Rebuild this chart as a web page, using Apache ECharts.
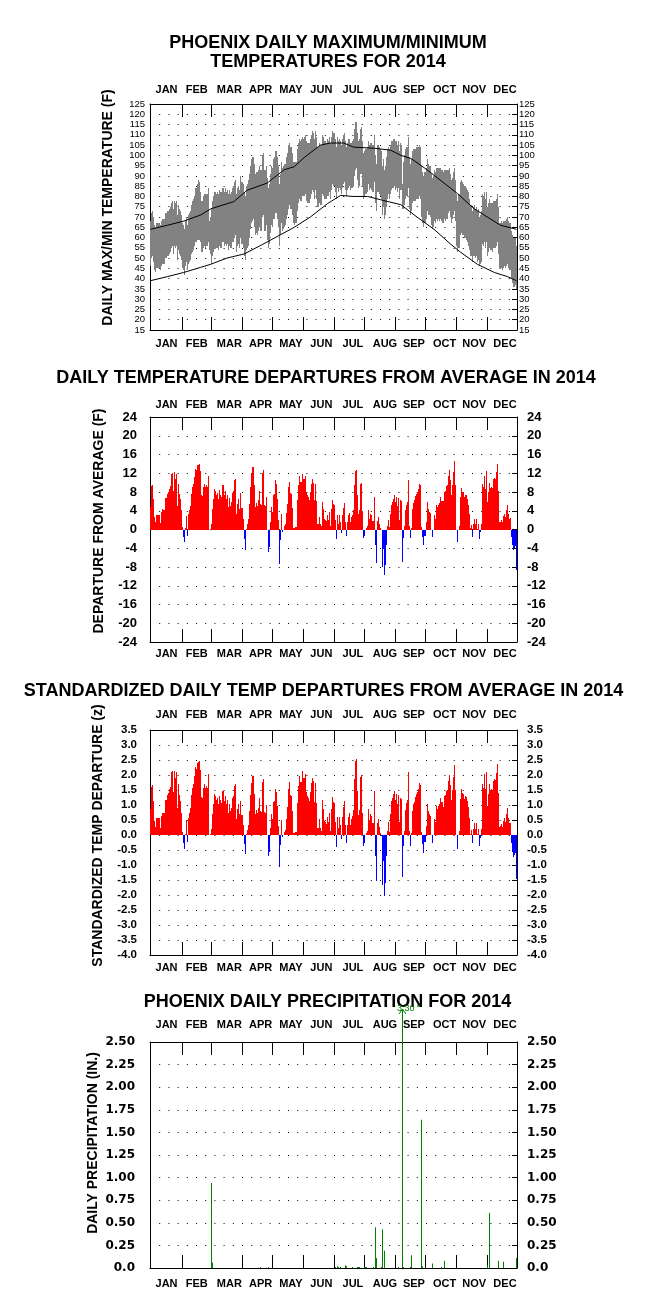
<!DOCTYPE html>
<html><head><meta charset="utf-8">
<script src="https://cdn.jsdelivr.net/npm/echarts@6/dist/echarts.min.js"></script>
<style>html,body{margin:0;padding:0;background:#fff}#c{width:666px;height:1310px}</style>
</head><body><div id="c"></div>
<script>
// ---------------- DATA ----------------
const monthNames = ['JAN','FEB','MAR','APR','MAY','JUN','JUL','AUG','SEP','OCT','NOV','DEC'];
const monthTickDays = [32,61,92,122,152,183,213,244,274,305,335];
const monthLabelDays = [5,35,66,98,128,159,191,221,251,281,310,341];

const tempTicks = [15,20,25,30,35,40,45,50,55,60,65,70,75,80,85,90,95,100,105,110,115,120,125];
const depTicks = [-24,-20,-16,-12,-8,-4,0,4,8,12,16,20,24];
const zTicks = [-4.0,-3.5,-3.0,-2.5,-2.0,-1.5,-1.0,-0.5,0.0,0.5,1.0,1.5,2.0,2.5,3.0,3.5];
const precipTicks = [0,0.25,0.5,0.75,1.0,1.25,1.5,1.75,2.0,2.25,2.5];

const dailyMax = [
68,72,73,70,66,65,67,67,67,67, 66,68,69,69,69,72,72,73,73,74,
75,77,78,74,78,77,78,71,76,74, 73,71,67,66,64,68,70,66,71,72,
73,76,78,79,80,84,84,86,88,87, 82,78,78,80,81,81,81,81,84,68,
70,74,78,80,82,82,81,82,81,83, 82,82,84,84,82,84,82,83,81,83,
81,82,84,85,87,88,81,84,85,83, 90,87,86,82,80,85,86,88,91,95,
98,99,99,96,91,92,92,93,95,93, 93,100,101,93,93,95,89,84,86,91,
95,94,98,99,102,102,99,95,86,91, 97,94,95,96,96,99,101,105,106,104,
104,101,97,97,97,97,103,106,108,107, 108,109,108,109,110,107,106,106,106,108,
110,112,111,108,112,109,104,104,106,105, 105,110,109,107,107,106,108,107,109,106,
109,112,111,111,108,104,109,107,108,107, 105,108,110,111,107,104,106,108,108,106,
106,107,108,113,116,116,111,107,108,113, 114,107,101,102,103,103,104,107,105,106,
106,105,105,110,100,96,105,105,104,103, 102,95,98,93,95,99,103,104,103,105,
107,107,108,108,107,107,105,107,102,106, 105,86,97,100,103,104,104,109,99,96,
98,102,103,103,103,104,104,104,105,104, 95,92,90,92,94,98,96,95,95,91,
89,90,93,92,94,94,94,94,94,93, 93,92,93,93,93,93,93,94,91,88,
89,92,94,88,81,78,81,81,87,88, 87,86,85,85,84,83,82,79,76,76,
73,75,76,74,75,73,74,70,71,73, 81,80,82,79,82,75,77,79,77,77,
77,78,78,78,79,81,75,67,67,68, 67,68,68,68,69,70,68,67,67,63,
61,60,60,60,56];

const dailyMin = [
46,50,51,48,44,43,45,45,45,45, 44,46,47,47,47,50,50,51,51,52,
53,55,56,52,56,55,56,49,54,52, 51,49,45,44,42,46,48,44,47,48,
49,52,53,54,56,58,58,59,59,59, 58,53,53,55,56,55,56,56,58,54,
52,47,51,53,55,55,55,55,54,56, 55,55,58,58,56,57,56,57,54,56,
55,55,58,58,60,61,53,56,57,55, 60,57,55,51,49,54,55,56,60,64,
67,68,69,65,61,62,61,63,65,63, 63,70,71,63,63,66,59,55,57,62,
66,65,69,69,72,72,69,65,56,61, 67,63,64,65,66,69,71,74,76,74,
74,71,67,66,67,67,73,77,79,78, 78,80,80,80,81,78,77,77,77,79,
81,83,82,79,83,79,75,75,77,76, 76,81,80,79,79,79,80,80,82,79,
83,86,85,85,82,79,84,82,84,83, 81,84,86,87,83,80,83,84,85,83,
84,84,85,90,93,94,88,84,85,91, 91,85,79,80,81,81,82,86,83,84,
83,82,82,87,77,73,82,82,81,80, 79,71,75,69,71,75,79,81,79,81,
83,84,84,85,83,84,82,84,79,83, 83,74,74,76,79,80,80,84,74,71,
73,77,78,78,78,79,79,79,80,79, 70,67,65,67,69,73,71,71,70,66,
64,65,68,67,69,68,69,68,69,68, 67,67,69,68,69,69,72,73,70,67,
69,71,73,68,56,53,55,55,61,62, 61,61,60,60,59,58,56,54,51,51,
48,51,51,50,51,48,49,46,47,48, 57,56,58,55,58,51,53,55,54,54,
53,55,55,55,56,58,52,45,45,45, 44,45,46,45,46,47,45,44,44,40,
38,36,36,37,35];

const normalHighDays = [0,17,33,50,60,83,96,116,133,143,153,169,179,192,202,222,239,249,259,275,292,305,322,335,348,364];
const normalHighVals = [64,66,68,71,74,77.5,83,86.5,93,94.5,99,105,106,106,104,103.5,102.5,100,98.5,93,86.5,81.5,74,70,66,64];
const normalLowDays = [0,17,33,50,60,76,93,109,126,143,159,176,189,202,216,232,249,265,282,298,308,325,342,355,364];
const normalLowVals = [39,41,43,45.5,47,50,52,56,60.5,65,70,76.5,80.5,80,80,78,76,70,64,57,53,47,43,41,39];

const departure = [
4.9,9.2,9.5,6.5,2.6,1.6,3.2,3.2,3.2,3.2, 1.4,3.7,4.3,4.1,4.1,6.7,6.7,7.6,8,8.7,
9.2,11.9,12.1,8.2,12.2,10.8,11.9,5.1,9.7,7.6, 6.5,4.1,0.5,-1.5,-2.7,0.3,2.8,-1.3,3.3,4.1,
5.1,7.6,9,9.7,11.2,13,12.6,13.7,13.8,14, 12.4,7.3,7.1,9,9.7,9,9.4,9,11.5,0,
0.2,1.2,4.4,6.5,8.7,8.3,7.4,7.8,6.5,8.4, 7.4,6.9,9.4,9.4,7.3,8.3,6.5,7.4,4.8,6.7,
5.1,5.8,7.8,8.3,10.5,10.8,3.3,5.5,6.5,4.4, 7.7,4.5,2.3,-2,-4.3,0.2,1.1,2.3,5.5,9,
11.9,13.3,13.4,9.4,4.8,5.7,5.1,6.2,8.3,5.5, 5.3,12.1,12.8,5.3,5.1,6.9,0,-4.7,-3.8,1.7,
4.8,3.7,7.4,7.6,10.5,9.7,6.5,2.1,-7.3,-2.2, 3.3,-0.5,0,0.7,1.2,3.6,5.5,9,10.2,7.8,
7.6,4.6,0.4,0.4,0.6,0.5,6.2,9.4,11.5,10.2, 10.2,11.9,10.7,10.7,11.5,8.1,7.3,6.9,6.4,8,
9.7,10.7,10,6.2,9.7,6,1.2,1.1,2.6,1.2, 0.7,5.8,4.4,2.3,2.1,1.9,3,2.1,3.7,0.7,
4.4,6.4,5.5,5.3,2.1,-2,3,1.2,3,1.6, -0.7,3,4.6,5.7,1.6,-1.3,1.6,3,3.6,1.6,
2.6,3.1,4.1,9.4,12.4,12.6,7.3,3.3,4.1,9.7, 10,3.7,-1.8,-1.3,0,0.3,0.7,4.1,2.3,3.3,
3,1.9,1.9,6.9,-3.3,-7.2,1.9,2.6,1.2,0.3, -0.2,-7.9,-4.1,-9.6,-7.5,-3.3,0.7,2.1,0.5,3.3,
5.3,5.8,6.5,7.3,5.8,6.9,5.1,6.7,2.1,6.2, 6,-7,-1.8,0.7,4.1,5.3,5.8,10.5,0.7,-1.8,
0.3,4.4,5.7,6.2,7.1,7.6,8,8.7,9.7,9.4, 0.5,-1.6,-3.4,-1.3,1.6,5.8,4.4,3.8,3.6,0,
-1.5,0,3,2.3,5.3,4.8,5.3,5.7,6.9,6, 6,6,8.1,8.3,9.2,9.4,11.4,12.6,10.5,7.4,
9.5,12.2,14.7,9.5,0,-2.6,0,0.7,6.9,8.8, 8,7.8,6.9,7.4,7.3,6.5,5.3,3.3,0.3,0.9,
-1.5,1.2,2.3,1.2,2.3,0.1,1.2,-2,-0.6,1.2, 9.7,9,11.5,8.7,12.4,5.8,8,10,8.8,9,
8.8,10.7,11,10.8,12.2,14,8.3,1.6,1.7,2.1, 1.6,2.8,3.3,2.6,4.1,5.3,3.3,2.3,2.4,-1.6,
-3.4,-4.3,-4,-3.6,-8.7];

const zDeparture = [
0.86,1.61,1.67,1.14,0.46,0.28,0.56,0.56,0.56,0.56, 0.25,0.65,0.75,0.72,0.72,1.18,1.18,1.33,1.40,1.53,
1.61,2.09,2.12,1.44,2.14,1.89,2.09,0.89,1.70,1.33, 1.14,0.72,0.09,-0.26,-0.47,0.05,0.49,-0.23,0.58,0.72,
0.89,1.33,1.58,1.70,1.96,2.28,2.21,2.40,2.42,2.46, 2.18,1.28,1.25,1.58,1.70,1.58,1.65,1.58,2.02,0,
0.03,0.19,0.69,1.02,1.36,1.30,1.16,1.22,1.02,1.31, 1.16,1.08,1.47,1.47,1.14,1.30,1.02,1.16,0.75,1.05,
0.80,0.91,1.22,1.30,1.64,1.69,0.52,0.86,1.02,0.69, 1.13,0.66,0.34,-0.29,-0.63,0.03,0.16,0.34,0.81,1.32,
1.75,1.96,1.97,1.38,0.71,0.84,0.75,0.91,1.22,0.81, 0.78,1.78,1.88,0.78,0.75,1.01,0,-0.69,-0.56,0.25,
0.71,0.54,1.09,1.12,1.54,1.43,0.96,0.31,-1.07,-0.32, 0.49,-0.07,0,0.10,0.18,0.53,0.95,1.55,1.76,1.34,
1.31,0.79,0.07,0.07,0.10,0.09,1.07,1.62,1.98,1.76, 1.76,2.13,1.91,1.91,2.05,1.45,1.30,1.23,1.14,1.43,
1.73,1.91,1.79,1.11,1.73,1.07,0.24,0.22,0.52,0.24, 0.14,1.16,0.88,0.46,0.42,0.38,0.60,0.42,0.74,0.14,
0.88,1.28,1.10,1.06,0.42,-0.40,0.60,0.24,0.60,0.32, -0.14,0.60,0.92,1.14,0.32,-0.26,0.32,0.60,0.72,0.32,
0.52,0.62,0.82,1.88,2.48,2.52,1.46,0.66,0.82,1.94, 2.00,0.74,-0.38,-0.28,0,0.06,0.15,0.87,0.49,0.70,
0.64,0.40,0.40,1.47,-0.70,-1.53,0.40,0.55,0.26,0.06, -0.04,-1.68,-0.87,-2.04,-1.60,-0.70,0.15,0.45,0.11,0.70,
1.13,1.23,1.38,1.46,1.16,1.38,1.02,1.34,0.42,1.24, 1.20,-1.40,-0.36,0.14,0.82,1.06,1.16,2.10,0.14,-0.36,
0.06,0.79,1.02,1.11,1.27,1.36,1.43,1.55,1.73,1.68, 0.09,-0.29,-0.61,-0.24,0.29,1.05,0.80,0.69,0.65,0,
-0.27,0,0.55,0.42,0.96,0.87,0.96,1.04,1.25,1.09, 1.09,0.95,1.29,1.32,1.46,1.49,1.81,2.00,1.67,1.17,
1.51,1.94,2.33,1.51,0,-0.46,0,0.12,1.21,1.54, 1.40,1.37,1.21,1.30,1.28,1.14,0.93,0.58,0.05,0.16,
-0.26,0.21,0.40,0.21,0.40,0.02,0.21,-0.35,-0.11,0.21, 1.70,1.58,2.02,1.53,2.10,0.98,1.36,1.69,1.49,1.53,
1.49,1.81,1.86,1.83,2.07,2.37,1.41,0.27,0.29,0.36, 0.27,0.47,0.56,0.44,0.69,0.90,0.56,0.39,0.41,-0.27,
-0.58,-0.73,-0.68,-0.61,-1.47];

const precipDays = [61,62,109,117,184,186,187,189,194,195,201,206,207,208,213,214,215,222,224,225,230,231,233,247,251,252,259,260,270,271,280,289,292,335,337,346,351,364];
const precipVals = [0.94,0.06,0.01,0.01,0.01,0.02,0.01,0.01,0.03,0.02,0.01,0.01,0.01,0.01,0.01,0.01,0.01,0.01,0.45,0.11,0.01,0.43,0.19,0.01,3.30,0.01,0.01,0.14,1.64,0.02,0.05,0.01,0.08,0.03,0.61,0.08,0.07,0.11];

// ---------------- CHART ----------------
const N = departure.length;
const dayIndex = Array.from({length: N}, (_, i) => String(i));
const tickSet = new Set(monthTickDays);
const labelMap = new Map(monthLabelDays.map((d, k) => [d, monthNames[k]]));
const RED = '#ff0000', BLUE = '#0000ff', GREEN = '#008000', GRAY = '#828282';
const ARIAL = "'Liberation Sans', Arial, sans-serif";
const NARROW = "'Liberation Sans Narrow', 'Arial Narrow', 'Liberation Sans', Arial, sans-serif";
const DEJAVU = "'DejaVu Sans', sans-serif";

const grids = [
  {left: 150, top: 104, width: 367, height: 226},
  {left: 150, top: 417, width: 367, height: 225},
  {left: 150, top: 730, width: 367, height: 225},
  {left: 150, top: 1042, width: 367, height: 226}
];

function xAxis(gi, pos, margin, fam, size) {
  return {
    type: 'category', gridIndex: gi, position: pos, data: dayIndex, boundaryGap: true,
    axisLine: {show: true, onZero: false, lineStyle: {color: '#000', width: 1}},
    axisTick: {show: true, inside: true, length: 13, interval: (i) => tickSet.has(i), lineStyle: {color: '#000', width: 1}},
    axisLabel: {show: true, interval: (i) => labelMap.has(i), formatter: (v) => labelMap.get(+v) || '',
      margin: margin, align: 'left', color: '#000', fontWeight: 'bold', fontFamily: fam, fontSize: size},
    splitLine: {show: false}
  };
}
function yAxis(gi, pos, ticks, margin, font, fmt, split, showTick) {
  return {
    type: 'value', gridIndex: gi, position: pos,
    min: ticks[0], max: ticks[ticks.length - 1], interval: ticks[1] - ticks[0],
    axisLine: {show: true, onZero: false, lineStyle: {color: '#000', width: 1}},
    axisTick: {show: showTick, inside: true, length: 5, lineStyle: {color: '#000'}},
    axisLabel: Object.assign({margin: margin, formatter: fmt, color: '#000'}, font),
    splitLine: {show: split, lineStyle: {color: '#000', width: 1, type: [1, 8.2]}}
  };
}
const fP1 = {fontFamily: NARROW, fontSize: 9.5, fontWeight: 'normal'};
const fP2 = {fontFamily: ARIAL, fontSize: 13, fontWeight: 'bold'};
const fP3 = {fontFamily: ARIAL, fontSize: 11.5, fontWeight: 'bold'};
const fP4 = {fontFamily: DEJAVU, fontSize: 12, fontWeight: 'bold'};
const fmtInt = (v) => String(v);
const fmt1 = (v) => v.toFixed(1);
const fmtP = (v) => v === 0 ? '0.0' : v.toFixed(2);

const xAxes = [
  xAxis(0, 'bottom', 8, NARROW, 11), xAxis(0, 'top', 8.5, NARROW, 11),
  xAxis(1, 'bottom', 6, ARIAL, 11), xAxis(1, 'top', 6.5, ARIAL, 11),
  xAxis(2, 'bottom', 7.5, ARIAL, 11), xAxis(2, 'top', 9.5, ARIAL, 11),
  xAxis(3, 'bottom', 10.5, ARIAL, 11), xAxis(3, 'top', 11.5, ARIAL, 11)
];
const yAxes = [
  yAxis(0, 'left', tempTicks, 5, fP1, fmtInt, true, false), yAxis(0, 'right', tempTicks, 2, fP1, fmtInt, false, true),
  yAxis(1, 'left', depTicks, 13, fP2, fmtInt, true, false), yAxis(1, 'right', depTicks, 10, fP2, fmtInt, false, true),
  yAxis(2, 'left', zTicks, 13, fP3, fmt1, true, false), yAxis(2, 'right', zTicks, 10, fP3, fmt1, false, true),
  yAxis(3, 'left', precipTicks, 15, fP4, fmtP, true, false), yAxis(3, 'right', precipTicks, 10, fP4, fmtP, false, true)
];

function sparse(days, vals) {
  const a = new Array(N).fill(null);
  days.forEach((d, k) => { a[d] = vals[k]; });
  return a;
}
// crisp pixel-aligned rectangle for day i between values v0 and v1, using the axis scales
function crispRect(api, i, v0, v1) {
  const a = api.coord([i, v0]), b = api.coord([i, v1]);
  const bw = api.size([1, 0])[0];
  const xl = Math.round(a[0] - bw / 2), xr = Math.round(a[0] + bw / 2);
  const yt = Math.round(Math.min(a[1], b[1])), yb = Math.round(Math.max(a[1], b[1]));
  return {x: xl, y: yt, width: Math.max(1, xr - xl), height: Math.max(0, yb - yt)};
}
function signedBars(params, api) {
  const i = api.value(0), v = api.value(1);
  if (!v) return null;
  return {type: 'rect', shape: crispRect(api, i, 0, v), style: {fill: v >= 0 ? RED : BLUE}};
}

const series = [
  {type: 'custom', xAxisIndex: 0, yAxisIndex: 0, silent: true, clip: true,
    data: dailyMin.map((lo, i) => [i, lo, dailyMax[i]]),
    encode: {x: 0, y: [1, 2]},
    renderItem: function (params, api) {
      const i = api.value(0);
      return {type: 'rect', shape: crispRect(api, i, api.value(1), api.value(2)), style: {fill: GRAY}};
    }},
  {type: 'line', xAxisIndex: 0, yAxisIndex: 0, data: sparse(normalHighDays, normalHighVals), connectNulls: true,
    symbol: 'none', lineStyle: {color: '#000', width: 1}, z: 5, silent: true},
  {type: 'line', xAxisIndex: 0, yAxisIndex: 0, data: sparse(normalLowDays, normalLowVals), connectNulls: true,
    symbol: 'none', lineStyle: {color: '#000', width: 1}, z: 5, silent: true},
  {type: 'custom', xAxisIndex: 2, yAxisIndex: 2, silent: true, clip: true,
    data: departure.map((v, i) => [i, v]), renderItem: signedBars},
  {type: 'custom', xAxisIndex: 4, yAxisIndex: 4, silent: true, clip: true,
    data: zDeparture.map((v, i) => [i, v]), renderItem: signedBars},
  {type: 'custom', xAxisIndex: 6, yAxisIndex: 6, clip: false, silent: true,
    data: precipDays.map((d, k) => [d, precipVals[k]]),
    renderItem: function (params, api) {
      const d = api.value(0), v = api.value(1);
      if (!(v > 0)) return null;
      const topV = precipTicks[precipTicks.length - 1];
      const p0 = api.coord([d, 0]);
      const p1 = api.coord([d, Math.min(v, topV)]);
      const x = Math.floor(p0[0]);
      const kids = [{type: 'rect', shape: {x: x, y: p1[1], width: 1, height: Math.max(p0[1] - p1[1], 1)}, style: {fill: GREEN}}];
      if (v > topV) {
        const yTop = p1[1] - 33;
        kids.push({type: 'rect', shape: {x: x, y: yTop, width: 1, height: p1[1] - yTop}, style: {fill: GREEN}});
        kids.push({type: 'polyline', shape: {points: [[x - 3, yTop + 5], [x + 0.5, yTop], [x + 4, yTop + 5]]},
          style: {stroke: GREEN, lineWidth: 1, fill: null}});
        kids.push({type: 'text', x: x - 5, y: yTop,
          style: {text: v.toFixed(2) + ' "', fill: GREEN, font: "9px 'Liberation Sans', Arial, sans-serif",
            textAlign: 'left', textVerticalAlign: 'middle', align: 'left', verticalAlign: 'middle'}});
      }
      return {type: 'group', children: kids};
    }
  }
];

function txt(s, x, y, size, rot) {
  return {type: 'text', x: x, y: y, rotation: rot || 0, silent: true,
    style: {text: s, fill: '#000', font: 'bold ' + size + "px 'Liberation Sans', Arial, sans-serif",
      textAlign: 'center', textVerticalAlign: 'middle', align: 'center', verticalAlign: 'middle'}};
}
const R = Math.PI / 2;
const graphic = [
  txt('PHOENIX DAILY MAXIMUM/MINIMUM', 328, 43, 18),
  txt('TEMPERATURES FOR 2014', 328, 62, 18),
  txt('DAILY TEMPERATURE DEPARTURES FROM AVERAGE IN 2014', 326, 378, 18),
  txt('STANDARDIZED DAILY TEMP DEPARTURES FROM AVERAGE IN 2014', 323.5, 691, 18),
  txt('PHOENIX DAILY PRECIPITATION FOR 2014', 327.5, 1002, 18),
  txt('DAILY MAX/MIN TEMPERATURE (F)', 108, 207.5, 14, R),
  txt('DEPARTURE FROM AVERAGE (F)', 99.5, 521, 14, R),
  txt('STANDARDIZED TEMP DEPARTURE (z)', 98.5, 835.5, 14, R),
  txt('DAILY PRECIPITATION (IN.)', 93, 1143, 14, R)
];

const chart = echarts.init(document.getElementById('c'), null, {renderer: 'canvas'});
chart.setOption({
  animation: false,
  backgroundColor: '#fff',
  grid: grids,
  xAxis: xAxes,
  yAxis: yAxes,
  series: series,
  graphic: graphic
});
</script></body></html>
